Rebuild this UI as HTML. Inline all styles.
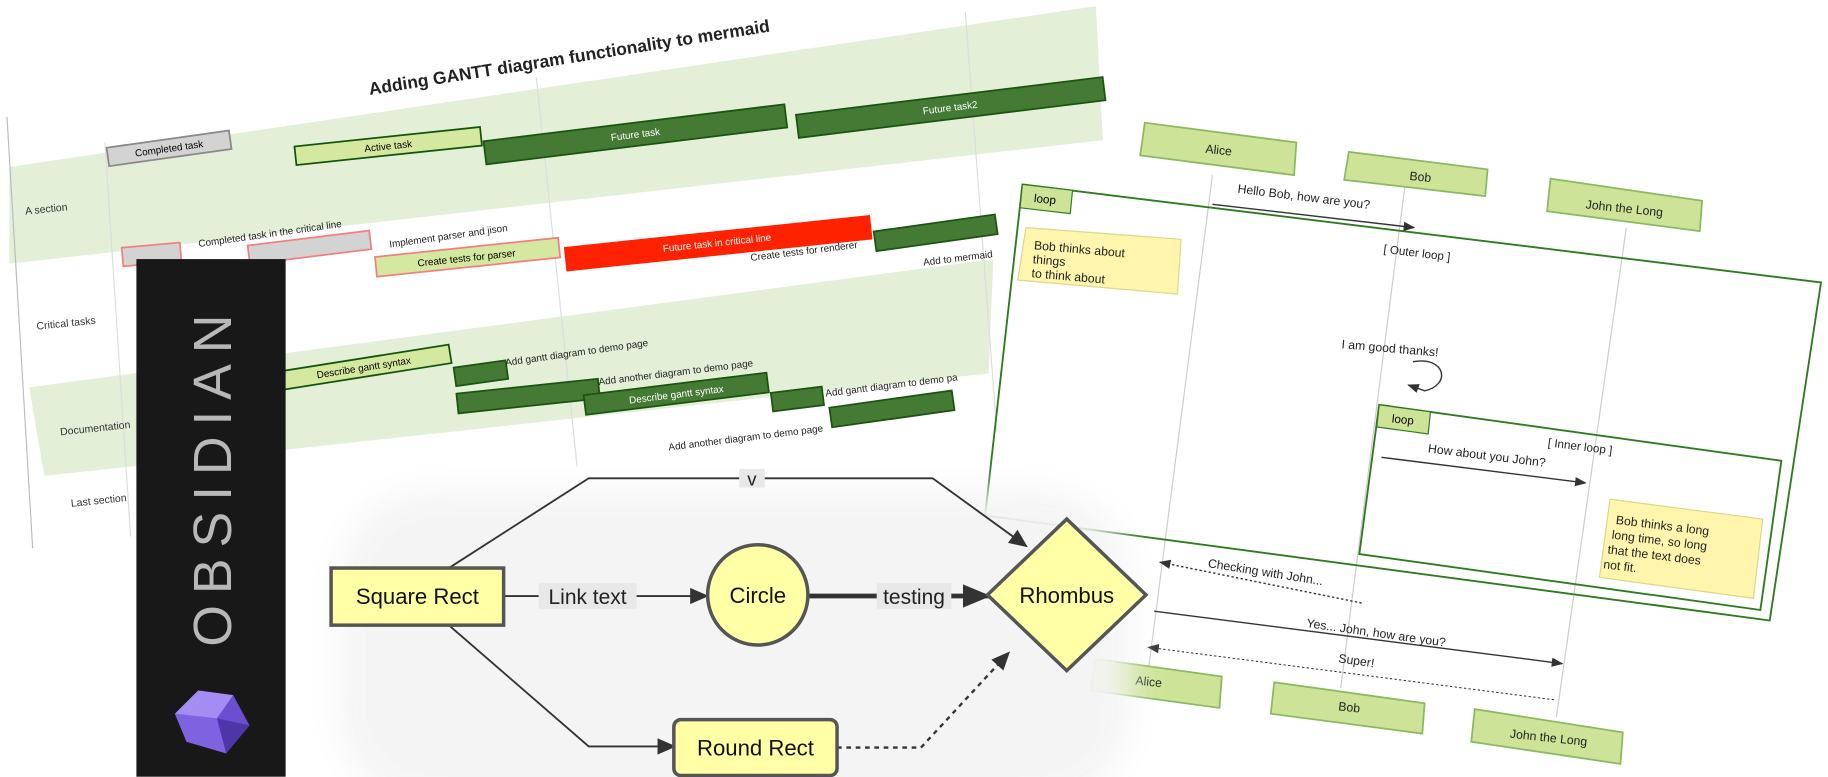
<!DOCTYPE html>
<html><head><meta charset="utf-8"><style>
html,body{margin:0;padding:0;background:#fff;width:1828px;height:777px;overflow:hidden}
svg{display:block}
text{font-family:"Liberation Sans",sans-serif}
</style></head><body>
<svg width="1828" height="777" viewBox="0 0 1568 666" xmlns="http://www.w3.org/2000/svg">
<defs>
<filter id="blur"><feGaussianBlur stdDeviation="14"/></filter>
<marker id="ah" markerWidth="10" markerHeight="10" refX="9" refY="5" orient="auto" markerUnits="userSpaceOnUse"><path d="M0,1 L10,5 L0,9 z" fill="#333"/></marker>
<marker id="fa" markerWidth="16" markerHeight="16" refX="14" refY="8" orient="auto" markerUnits="userSpaceOnUse"><path d="M0,1 L16,8 L0,15 z" fill="#333"/></marker>
<marker id="fb" markerWidth="24" markerHeight="24" refX="22" refY="12" orient="auto" markerUnits="userSpaceOnUse"><path d="M0,2 L24,12 L0,22 z" fill="#333"/></marker>
</defs>

<!-- GANTT -->
<polygon points="8,143 940,5 946,120 8,226" fill="#e3efd6"/>
<polygon points="25,332 852,222 848,320 38,408" fill="#e3efd6"/>
<line x1="6" y1="100" x2="28" y2="470" stroke="#bbb" stroke-width="1"/>
<line x1="90" y1="122" x2="112" y2="460" stroke="#ddd"/>
<line x1="460" y1="66" x2="495" y2="400" stroke="#ddd"/>
<line x1="828" y1="10" x2="855" y2="370" stroke="#ddd"/>
<text x="489" y="54" font-size="15" font-weight="bold" text-anchor="middle" transform="rotate(-9 489 54)" fill="#222">Adding GANTT diagram functionality to mermaid</text>
<g font-size="9" fill="#333">
<text x="40" y="182" text-anchor="middle" transform="rotate(-6 40 182)">A section</text>
<text x="57" y="280" text-anchor="middle" transform="rotate(-6 57 280)">Critical tasks</text>
<text x="82" y="370" text-anchor="middle" transform="rotate(-6 82 370)">Documentation</text>
<text x="85" y="432" text-anchor="middle" transform="rotate(-6 85 432)">Last section</text>
</g>
<g transform="rotate(-8 145 127)"><rect x="92" y="119" width="106" height="16" fill="#d3d3d3" stroke="#888" stroke-width="1.5"/><text x="145" y="130" font-size="8.5" text-anchor="middle">Completed task</text></g>
<g transform="rotate(-6 333 125)"><rect x="253" y="117" width="160" height="16" fill="#d4e8a0" stroke="#13540c" stroke-width="1.5"/><text x="333" y="128" font-size="8.5" text-anchor="middle">Active task</text></g>
<g transform="rotate(-7 545 115)"><rect x="415" y="105" width="260" height="20" fill="#447a34" stroke="#1b5410" stroke-width="1.5"/><text x="545" y="118" font-size="8.5" fill="#fff" text-anchor="middle">Future task</text></g>
<g transform="rotate(-7 815 92)"><rect x="683" y="82" width="265" height="20" fill="#447a34" stroke="#1b5410" stroke-width="1.5"/><text x="815" y="95" font-size="8.5" fill="#fff" text-anchor="middle">Future task2</text></g>
<g transform="rotate(-5 130 218)"><rect x="105" y="210" width="50" height="16" fill="#d3d3d3" stroke="#f08080" stroke-width="1.5"/></g>
<g transform="rotate(-7 265 212)"><rect x="213" y="204" width="105" height="16" fill="#d3d3d3" stroke="#f08080" stroke-width="1.5"/></g>
<g transform="rotate(-6 400 220)"><rect x="322" y="212" width="158" height="17" fill="#d4e8a0" stroke="#f08080" stroke-width="1.5"/><text x="400" y="224" font-size="8.5" text-anchor="middle">Create tests for parser</text></g>
<g transform="rotate(-6 615 208)"><rect x="484" y="198" width="264" height="21" fill="#ff2200"/><text x="615" y="211" font-size="8.5" fill="#fff" text-anchor="middle">Future task in critical line</text></g>
<g transform="rotate(-8 802 199)"><rect x="750" y="191" width="105" height="17" fill="#447a34" stroke="#1b5410" stroke-width="1.5"/></g>
<g font-size="8.5" fill="#222">
<text x="232" y="203" text-anchor="middle" transform="rotate(-8 232 203)">Completed task in the critical line</text>
<text x="385" y="205" text-anchor="middle" transform="rotate(-8 385 205)">Implement parser and jison</text>
<text x="690" y="218" text-anchor="middle" transform="rotate(-7 690 218)">Create tests for renderer</text>
<text x="822" y="224" text-anchor="middle" transform="rotate(-7 822 224)">Add to mermaid</text>
</g>
<g transform="rotate(-9 312 315)"><rect x="237" y="307" width="150" height="16" fill="#d4e8a0" stroke="#13540c" stroke-width="1.5"/><text x="312" y="318" font-size="8.5" text-anchor="middle">Describe gantt syntax</text></g>
<g transform="rotate(-8 412 320)"><rect x="390" y="312" width="45" height="16" fill="#447a34" stroke="#1b5410" stroke-width="1.5"/></g>
<g transform="rotate(-6 453 339)"><rect x="392" y="331" width="122" height="17" fill="#447a34" stroke="#1b5410" stroke-width="1.5"/></g>
<g transform="rotate(-7 580 337)"><rect x="501" y="329" width="158" height="17" fill="#447a34" stroke="#1b5410" stroke-width="1.5"/><text x="580" y="341" font-size="8.5" fill="#fff" text-anchor="middle">Describe gantt syntax</text></g>
<g transform="rotate(-7 684 342)"><rect x="662" y="334" width="44" height="16" fill="#447a34" stroke="#1b5410" stroke-width="1.5"/></g>
<g transform="rotate(-8 765 350)"><rect x="712" y="342" width="106" height="17" fill="#447a34" stroke="#1b5410" stroke-width="1.5"/></g>
<g font-size="8.5" fill="#222">
<text x="495" y="305" text-anchor="middle" transform="rotate(-8 495 305)">Add gantt diagram to demo page</text>
<text x="580" y="322" text-anchor="middle" transform="rotate(-7 580 322)">Add another diagram to demo page</text>
<text x="765" y="333" text-anchor="middle" transform="rotate(-7 765 333)">Add gantt diagram to demo pa</text>
<text x="640" y="378" text-anchor="middle" transform="rotate(-7 640 378)">Add another diagram to demo page</text>
</g>

<!-- SEQUENCE -->
<g stroke="#ccc" stroke-width="1"><line x1="1040" y1="150" x2="985" y2="575"/><line x1="1205" y1="160" x2="1150" y2="590"/><line x1="1395" y1="195" x2="1335" y2="615"/></g>
<polygon points="877,158 1562,242 1518,532 845,442" fill="none" stroke="#2f7a1f" stroke-width="1.6"/>
<polygon points="877,158 920,163 918,183 875,178" fill="#cde498" stroke="#2f7a1f"/>
<text x="896" y="174" font-size="10" transform="rotate(6 896 174)" text-anchor="middle">loop</text>
<polygon points="1183,347 1528,395 1510,523 1166,475" fill="none" stroke="#2f7a1f" stroke-width="1.6"/>
<polygon points="1183,347 1227,353 1225,372 1181,366" fill="#cde498" stroke="#2f7a1f"/>
<text x="1203" y="363" font-size="10" transform="rotate(6 1203 363)" text-anchor="middle">loop</text>
<g font-size="10" fill="#222" text-anchor="middle">
<text x="1215" y="220" transform="rotate(7 1215 220)">[ Outer loop ]</text>
<text x="1355" y="386" transform="rotate(7 1355 386)">[ Inner loop ]</text>
</g>
<g fill="#cde498" stroke="#8cb860" stroke-width="1.5">
<polygon points="982,105 1112,122 1110,150 978,133"/>
<polygon points="1157,130 1276,145 1274,168 1153,154"/>
<polygon points="1330,153 1460,172 1458,198 1327,181"/>
<polygon points="940,565 1048,580 1046,607 936,592"/>
<polygon points="1093,585 1222,603 1220,629 1090,612"/>
<polygon points="1265,608 1392,628 1390,655 1262,636"/>
</g>
<g font-size="10.5" fill="#222" text-anchor="middle">
<text x="1045" y="132" transform="rotate(6 1045 132)">Alice</text>
<text x="1218" y="155" transform="rotate(6 1218 155)">Bob</text>
<text x="1393" y="182" transform="rotate(6 1393 182)">John the Long</text>
<text x="985" y="588" transform="rotate(6 985 588)">Alice</text>
<text x="1157" y="610" transform="rotate(6 1157 610)">Bob</text>
<text x="1328" y="636" transform="rotate(6 1328 636)">John the Long</text>
</g>
<polygon points="880,195 1013,205 1010,252 873,240" fill="#fff5ad" stroke="#d8d88a"/>
<g font-size="10.5" fill="#222" transform="rotate(5 880 210)">
<text x="887" y="213">Bob thinks about</text><text x="887" y="225">things</text><text x="887" y="237">to think about</text></g>
<polygon points="1381,428 1512,445 1504,513 1372,495" fill="#fff5ad" stroke="#d8d88a"/>
<g font-size="10.5" fill="#222" transform="rotate(7 1385 447)">
<text x="1386" y="449">Bob thinks a long</text><text x="1384" y="462">long time, so long</text><text x="1382" y="475">that the text does</text><text x="1380" y="488">not fit.</text></g>
<g stroke="#333" stroke-width="1.2" fill="none">
<line x1="1040" y1="175" x2="1213" y2="195" marker-end="url(#ah)"/>
<path d="M1212,310 C1240,305 1245,330 1222,335 L1208,330" marker-end="url(#ah)"/>
<line x1="1185" y1="392" x2="1360" y2="414" marker-end="url(#ah)"/>
<line x1="1168" y1="517" x2="995" y2="482" stroke-dasharray="2,2" marker-end="url(#ah)"/>
<line x1="990" y1="524" x2="1340" y2="569" marker-end="url(#ah)"/>
<line x1="1333" y1="600" x2="985" y2="555" stroke-dasharray="2,2" stroke-width="0.9" marker-end="url(#ah)"/>
</g>
<g font-size="10.5" fill="#222" text-anchor="middle">
<text x="1118" y="172" transform="rotate(7 1118 172)">Hello Bob, how are you?</text>
<text x="1192" y="302" transform="rotate(5 1192 302)">I am good thanks!</text>
<text x="1275" y="394" transform="rotate(7 1275 394)">How about you John?</text>
<text x="1085" y="494" transform="rotate(9 1085 494)">Checking with John...</text>
<text x="1180" y="546" transform="rotate(8 1180 546)">Yes... John, how are you?</text>
<text x="1163" y="570" transform="rotate(8 1163 570)">Super!</text>
</g>

<!-- FLOWCHART -->
<rect x="290" y="420" width="680" height="270" rx="80" fill="#f4f4f4" filter="url(#blur)" opacity="0.95"/>
<g stroke="#333" stroke-width="1.6" fill="none">
<polyline points="385,487 505,410 800,410 880,468" marker-end="url(#fa)"/>
<polyline points="385,536 505,640 578,640" marker-end="url(#fa)"/>
<line x1="432" y1="511" x2="606" y2="511" marker-end="url(#fa)"/>
<line x1="693" y1="511" x2="848" y2="511" stroke-width="4" marker-end="url(#fb)"/>
<polyline points="718,641 790,641 865,560" stroke-dasharray="4,4" stroke-width="2" marker-end="url(#fa)"/>
</g>
<rect x="634" y="402" width="22" height="16" fill="#e8e8e8"/>
<text x="645" y="416" font-size="16" text-anchor="middle" fill="#222">v</text>
<rect x="462" y="500" width="84" height="22" fill="#e8e8e8"/>
<text x="504" y="518" font-size="18" text-anchor="middle" fill="#222">Link text</text>
<rect x="752" y="500" width="64" height="22" fill="#e8e8e8"/>
<text x="784" y="518" font-size="18" text-anchor="middle" fill="#222">testing</text>
<rect x="284" y="487" width="148" height="49" fill="#ffffa6" stroke="#555" stroke-width="3"/>
<text x="358" y="518" font-size="19" text-anchor="middle" fill="#111">Square Rect</text>
<circle cx="650" cy="510" r="43" fill="#ffffa6" stroke="#555" stroke-width="3"/>
<text x="650" y="517" font-size="19" text-anchor="middle" fill="#111">Circle</text>
<polygon points="915,445 983,510 915,575 847,510" fill="#ffffa6" stroke="#555" stroke-width="3"/>
<text x="915" y="517" font-size="19" text-anchor="middle" fill="#111">Rhombus</text>
<rect x="578" y="617" width="140" height="48" rx="6" fill="#ffffa6" stroke="#555" stroke-width="3"/>
<text x="648" y="648" font-size="19" text-anchor="middle" fill="#111">Round Rect</text>

<!-- OBSIDIAN -->
<rect x="117" y="222" width="128" height="444" fill="#181818"/>
<text x="0" y="0" font-size="46" fill="#b8b8b8" text-anchor="middle" textLength="285" lengthAdjust="spacing" transform="translate(198 412) rotate(-90)">OBSIDIAN</text>
<polygon points="150,612 170,592 200,596 214,622 194,646 160,636" fill="#6b4fd0"/>
<polygon points="170,592 200,596 186,616 150,612" fill="#a58cf2"/>
<polygon points="186,616 214,622 194,646" fill="#4e36a8"/>
<polygon points="150,612 186,616 194,646 160,636" fill="#7e62e0"/>
</svg>
</body></html>
